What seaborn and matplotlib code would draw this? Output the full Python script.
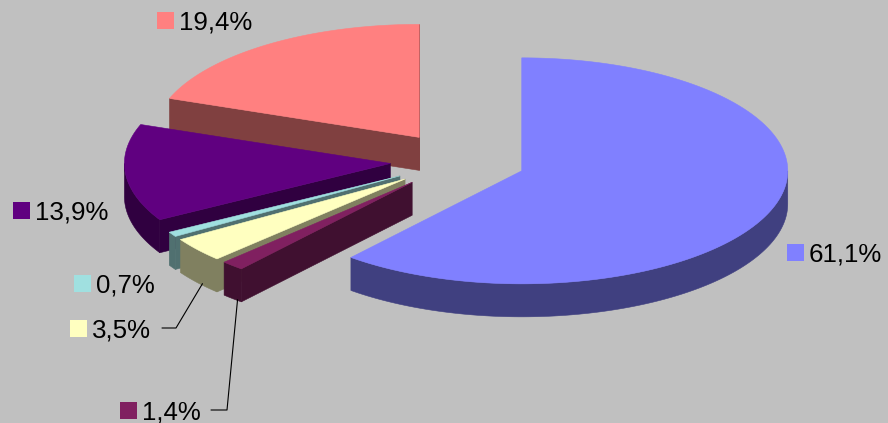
import numpy as np
import matplotlib
matplotlib.use("Agg")
import matplotlib.pyplot as plt
from matplotlib.patches import Polygon, Rectangle
import seaborn as sns

# slices, clockwise from 12 o'clock
labels = ["61,1%", "1,4%", "3,5%", "0,7%", "13,9%", "19,4%"]
shares = [61.1, 1.4, 3.5, 0.7, 13.9, 19.4]
top_colors = ["#8080FF", "#802060", "#FFFFC0", "#A0E0E0", "#600080", "#FF8080"]

# layout (pixel space, y down)
cx, cy = 458, 161
rx, ry = 266, 113
depth = 33
explode = 0.255
# legend-key squares (left, top) for each label
key_pos = [(787, 244), (120, 402), (70, 320), (74, 275), (13, 202), (157, 12)]
key_size = 17
# elbow of leader lines (only small slices have one)
leaders = {1: [(211, 410), (227, 410)], 2: [(162, 328), (176, 328)]}

sns.set_theme(style="white")
plt.rcParams['font.family'] = ['Liberation Sans', 'DejaVu Sans']

bg = "#C0C0C0"
fig = plt.figure(figsize=(8.88, 4.23), dpi=100, facecolor=bg)
ax = fig.add_axes([0, 0, 1, 1])
ax.set_xlim(0, 888)
ax.set_ylim(423, 0)
ax.axis('off')
ax.set_facecolor(bg)

pal = sns.color_palette(top_colors)
side_pal = [tuple(c * 0.5 for c in col) for col in pal]


def pt(ox, oy, t, dz=0):
    r = np.radians(t)
    return ox + rx * np.cos(r), oy - ry * np.sin(r) + dz


def poly(points, color, z):
    p = Polygon(points, closed=True, facecolor=color, edgecolor=color,
                linewidth=0.4, zorder=z)
    ax.add_patch(p)


cum = 0.0
slices = []
for i, s in enumerate(shares):
    t2 = 90 - cum * 3.6
    t1 = t2 - s * 3.6
    cum += s
    t1n = t1 % 360
    t2n = t1n + s * 3.6
    mid = (t1n + t2n) / 2
    ox = cx + explode * rx * np.cos(np.radians(mid))
    oy = cy - explode * ry * np.sin(np.radians(mid))
    slices.append((t1n, t2n, mid, ox, oy))

# back slices first
order = np.argsort([sl[4] for sl in slices])
for rank, i in enumerate(order):
    t1, t2, mid, ox, oy = slices[i]
    z = 2 + rank * 3
    top = pal[i]
    side = side_pal[i]

    # radial walls
    for t, vis in ((t1, np.cos(np.radians(t1)) > 0), (t2, np.cos(np.radians(t2)) < 0)):
        if vis:
            ex, ey = pt(ox, oy, t)
            poly([(ox, oy), (ex, ey), (ex, ey + depth), (ox, oy + depth)], side, z)

    # outer wall, front half only
    for lo, hi in ((180, 360), (540, 720)):
        a = max(t1, lo)
        b = min(t2, hi)
        if b > a:
            ts = np.linspace(a, b, 120)
            upper = [pt(ox, oy, t) for t in ts]
            lower = [pt(ox, oy, t, depth) for t in ts[::-1]]
            poly(upper + lower, side, z + 1)

    # top face
    ts = np.linspace(t1, t2, 200)
    poly([(ox, oy)] + [pt(ox, oy, t) for t in ts], top, z + 2)

# data labels with legend keys
for i, lab in enumerate(labels):
    kx, ky = key_pos[i]
    ax.add_patch(Rectangle((kx, ky), key_size, key_size, facecolor=pal[i],
                           edgecolor='none', zorder=40))
    ax.text(kx + key_size + 5, ky + key_size + 0.5, lab, fontsize=18.6,
            color='black', ha='left', va='baseline', zorder=40)
    if i in leaders:
        t1, t2, mid, ox, oy = slices[i]
        ex, ey = pt(ox, oy, mid, depth)
        xs = [p[0] for p in leaders[i]] + [ex + 5]
        ys = [p[1] for p in leaders[i]] + [ey + 1]
        ax.plot(xs, ys, color='black', linewidth=0.8, zorder=39)

fig.savefig("out.png", dpi=100, facecolor=bg)
